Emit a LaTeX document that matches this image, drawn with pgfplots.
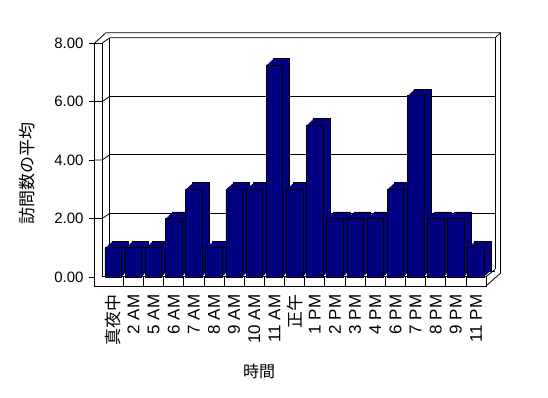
\documentclass[border=0pt]{standalone}
\usepackage{pgfplots}
\usepackage{pgfplotstable}
\pgfplotsset{compat=1.18}
\usepackage{fontspec}
\setmainfont{Liberation Sans}
\newfontfamily\jp{Noto Sans CJK JP}
\definecolor{navy}{RGB}{0,0,128}

\pgfplotstableread{
x y
0 1
1 1
2 1
3 2
4 3
5 1
6 3
7 3
8 7.25
9 3
10 5.2
11 2
12 2
13 2
14 3
15 6.2
16 2
17 2
18 1
}\visits

\begin{document}
\begin{tikzpicture}[x=1pt,y=1pt]
\path[use as bounding box] (0,0) rectangle (548,398);
\begin{scope}[line width=0.8pt]
% back wall and gridlines
\draw (109.7,126.2) -- (495,126.2);
\foreach \v in {2,4,6} {
  \draw (109.7,{126.2+29.25*\v}) -- (495,{126.2+29.25*\v});
  \draw (94.7,{121+29.25*\v}) -- (102.3,{121+29.25*\v}) -- (109.7,{126.2+29.25*\v});
}
\draw (109.7,360.2) -- (109.7,126.2);
% frame
\draw (94.7,355) -- (94.7,112) -- (486,112) -- (486,121.3);
\draw (102.3,121.3) -- (486,121.3);
\draw (102.3,355) -- (102.3,121.3);
\draw (94.7,355) -- (102.3,355);
\draw (94.7,355) -- (106,365.3) -- (500.7,365.3);
\draw (102.3,355) -- (109.7,360.2) -- (495,360.2);
\draw (495,360.2) -- (500.7,365.3);
\draw (495,360.2) -- (495,128.5);
\draw (500.7,365.3) -- (500.7,125);
\draw (486,112) -- (500.7,125);
\draw (486,121.3) -- (495,128.5);
\foreach \k in {0.5,1.5,...,17.5} {
  \draw ({103.1+20.16*(\k+0.5)},112) -- ({103.1+20.16*(\k+0.5)},121.3);
}
\end{scope}
\node[rotate=90, font=\jp\fontsize{17}{17}\selectfont] at (27.5,224) {訪問数の平均};
\node[font=\jp\fontsize{16}{17}\selectfont] at (259,27) {時間};

\begin{axis}[
  at={(95pt,121pt)}, anchor=south west,
  scale only axis, width=391.1pt, height=234pt,
  xmin=-0.902, xmax=18.5, ymin=0, ymax=8,
  clip=false,
  axis line style={draw=none},
  ytick={0,2,4,6,8},
  ytick pos=left,
  tick align=outside,
  major tick length=6pt,
  ytick style={black, line width=0.8pt},
  xtick={0,...,18},
  xtick style={draw=none},
  xticklabels={{\jp 真夜中},2 AM,5 AM,6 AM,7 AM,8 AM,9 AM,10 AM,11 AM,{\jp 正午},1 PM,2 PM,3 PM,4 PM,6 PM,7 PM,8 PM,9 PM,11 PM},
  xticklabel style={rotate=90, anchor=east, font=\fontsize{17}{17}\selectfont, xshift=-8pt},
  yticklabel style={font=\fontsize{15}{16}\selectfont, xshift=-2pt,
    /pgf/number format/.cd, fixed, fixed zerofill, precision=2, assume math mode=true},
  bar width=16.5pt,
  bar shift=0pt,
]
\addplot[ybar, bar shift=0pt, fill=navy, draw=black, line width=0.6pt, xshift=7pt, yshift=6.5pt] table[x=x,y=y] {\visits};
\pgfplotsinvokeforeach{1,2,3,4,5}{
  \addplot[ybar, bar shift=0pt, fill=navy, draw=none, xshift=#1*7/6 pt, yshift=#1*6.5/6 pt] table[x=x,y=y] {\visits};
}
\addplot[ybar, bar shift=0pt, fill=navy, draw=black, line width=0.6pt] table[x=x,y=y] {\visits};
\end{axis}
\end{tikzpicture}
\end{document}
